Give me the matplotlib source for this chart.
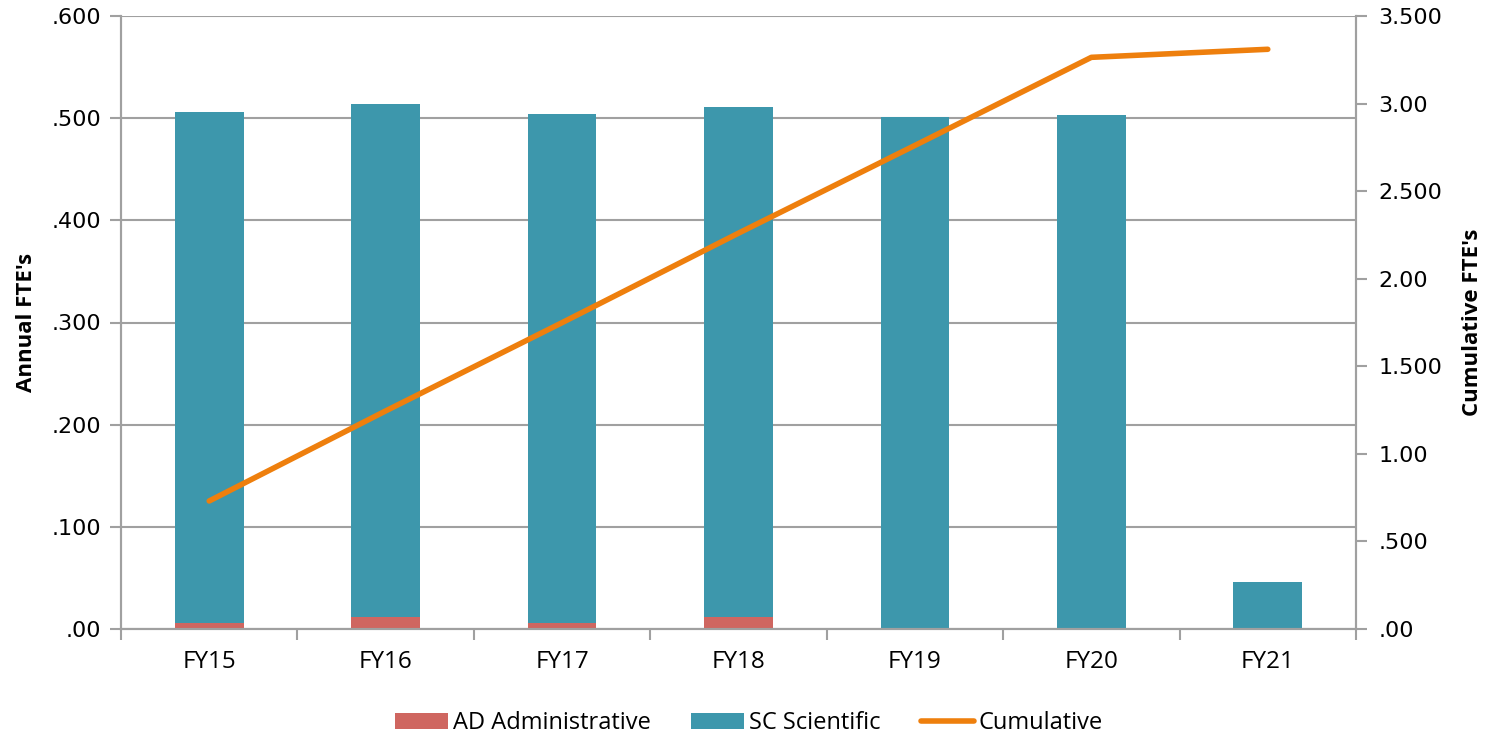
import matplotlib.pyplot as plt
import numpy as np

# Datos
anios = ['FY15', 'FY16', 'FY17', 'FY18', 'FY19', 'FY20', 'FY21']
ad_admin = [0.006, 0.012, 0.006, 0.012, 0.0, 0.0, 0.0]
total_anual = [0.506, 0.514, 0.504, 0.511, 0.501, 0.503, 0.046]
sc_cientifico = [t - a for t, a in zip(total_anual, ad_admin)]
acumulado = [0.731, 1.245, 1.749, 2.260, 2.761, 3.264, 3.310]

izq_ticks = [0, .1, .2, .3, .4, .5, .6]
izq_labels = ['.00', '.100', '.200', '.300', '.400', '.500', '.600']
der_ticks = [0, .5, 1, 1.5, 2, 2.5, 3, 3.5]
der_labels = ['.00', '.500', '1.00', '1.500', '2.00', '2.500', '3.00', '3.500']

plt.rcParams['font.family'] = ['DejaVu Sans']
gris = '#a0a0a0'

fig = plt.figure(figsize=(14.89, 7.38), dpi=100)
ax = fig.add_axes([121 / 1489, 1 - 629 / 738, (1356 - 121) / 1489, (629 - 16) / 738])
x = np.arange(len(anios))

ax.bar(x, ad_admin, width=0.39, color='#cf6660', label='AD Administrative', zorder=2)
ax.bar(x, sc_cientifico, width=0.39, bottom=ad_admin, color='#3d97ac',
       label='SC Scientific', zorder=2)
ax.set_xlim(-0.5, len(anios) - 0.5)
ax.set_ylim(0, 0.6)
ax.set_yticks(izq_ticks)
ax.set_yticklabels(izq_labels, fontsize=16)
ax.set_xticks(x)
ax.set_xticklabels(anios, fontsize=17.5, family='Open Sans')
ax.set_xticks(np.arange(len(anios) + 1) - 0.5, minor=True)
ax.tick_params(axis='x', which='major', length=0, pad=15)
ax.tick_params(axis='x', which='minor', length=8, color=gris, width=1.5)
ax.tick_params(axis='y', length=8, color=gris, width=1.5, pad=6)
ax.grid(axis='y', color=gris, linewidth=1.5, zorder=0)
ax.set_axisbelow(True)
ax.spines['top'].set_visible(False)
for lado in ['left', 'bottom', 'right']:
    ax.spines[lado].set_color(gris)
    ax.spines[lado].set_linewidth(1.5)
ax.set_ylabel("Annual FTE's", fontsize=16, fontweight='bold', family='Open Sans', labelpad=11)

ax2 = ax.twinx()
ax2.plot(x, acumulado, color='#ee7f0d', linewidth=4, solid_capstyle='round',
         label='Cumulative', zorder=3)
ax2.set_ylim(0, 3.5)
ax2.set_yticks(der_ticks)
ax2.set_yticklabels(der_labels, fontsize=16)
ax2.tick_params(axis='y', length=8, color=gris, width=1.5, pad=8)
ax2.spines['top'].set_visible(False)
for lado in ['left', 'bottom', 'right']:
    ax2.spines[lado].set_color(gris)
    ax2.spines[lado].set_linewidth(1.5)
ax2.set_ylabel("Cumulative FTE's", fontsize=16, fontweight='bold', family='Open Sans', labelpad=14)

h1, l1 = ax.get_legend_handles_labels()
h2, l2 = ax2.get_legend_handles_labels()
fig.legend(h1 + h2, l1 + l2, loc='center', bbox_to_anchor=(749 / 1489, 1 - 723 / 738), ncol=3,
           frameon=False, prop={'family': 'Open Sans', 'size': 17},
           handlelength=2.25, handleheight=0.64, handletextpad=0.2, columnspacing=1.7)

plt.savefig('out.png', dpi=100)
